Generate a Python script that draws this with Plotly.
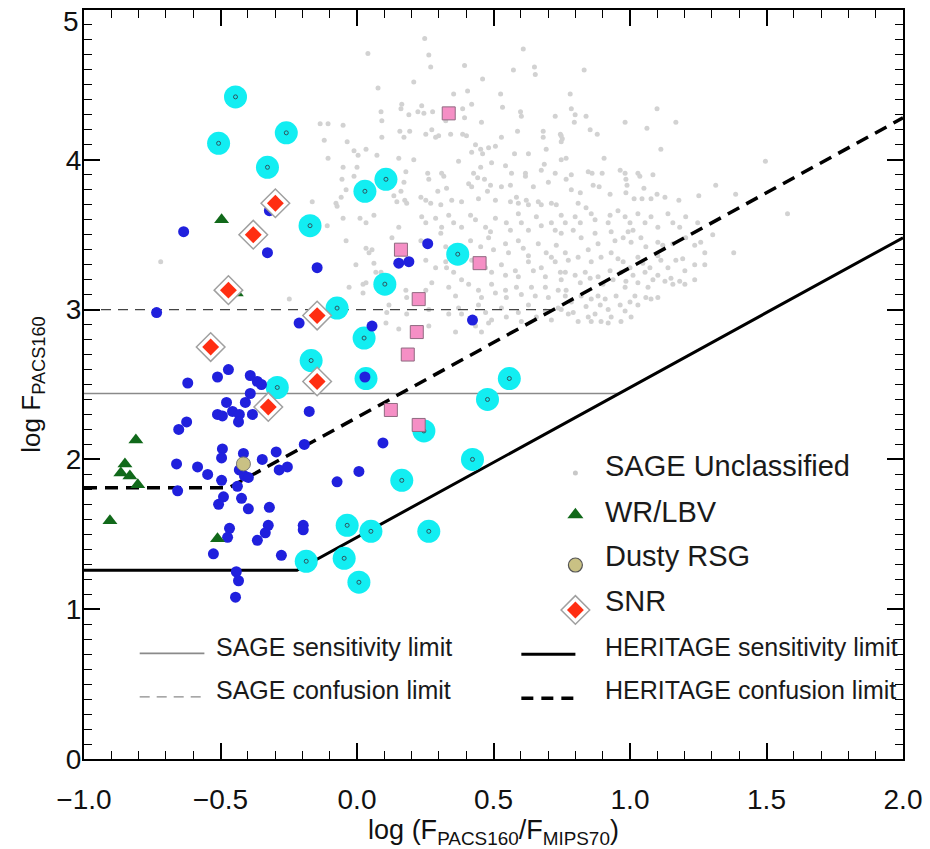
import plotly.graph_objects as go

# ---------------- data (log colour, log flux) ----------------
sage_xy = [
(0.248,4.81),(0.040,4.71),(0.263,4.70),(0.609,4.74),(0.270,4.62),(0.394,4.63),(0.573,4.60),(0.650,4.62),(0.653,4.57),
(0.208,4.52),(0.460,4.54),(0.077,4.48),(0.405,4.46),(0.354,4.44),(0.526,4.44),(0.164,4.37),(0.161,4.34),(0.237,4.36),
(0.420,4.37),(0.533,4.35),(0.088,4.32),(0.223,4.32),(0.245,4.31),(0.277,4.32),(0.190,4.30),(0.387,4.34),(0.394,4.28),
(0.325,4.26),(0.599,4.32),(0.602,4.29),(0.726,4.29),(0.091,4.26),(0.456,4.25),(-0.135,4.24),(-0.106,4.24),(-0.051,4.23),
(0.157,4.19),(0.172,4.15),(0.193,4.19),(0.252,4.17),(0.274,4.20),(0.288,4.15),(0.299,4.16),(0.343,4.17),(0.387,4.17),
(0.401,4.16),(0.091,4.15),(0.529,4.15),(0.588,4.19),(0.682,4.19),(0.682,4.15),(0.745,4.17),(0.752,4.14),(-0.120,4.13),
(-0.036,4.12),(0.434,4.10),(0.453,4.07),(0.460,4.04),(0.420,4.05),(0.482,4.08),(0.507,4.09),(-0.011,4.06),(0.033,4.07),
(0.073,4.03),(0.153,4.01),(0.208,4.00),(-0.106,4.01),(0.372,3.99),(0.577,4.04),(0.628,4.04),(0.693,4.07),(0.493,3.98),
(0.453,3.95),(0.544,3.96),(0.686,3.97),(0.748,4.00),(-0.051,3.95),(0.000,3.95),(0.310,3.91),(0.318,3.89),(0.259,3.91),
(0.263,3.87),(0.427,3.91),(0.442,3.88),(0.566,3.91),(0.617,3.91),(0.617,3.89),(0.675,3.93),(0.726,3.91),(-0.055,3.87),
(-0.011,3.89),(0.179,3.92),(0.467,3.87),(0.409,3.84),(0.420,3.82),(0.489,3.83),(0.529,3.82),(0.562,3.83),(0.646,3.82),
(0.701,3.85),(0.328,3.81),(0.296,3.79),(0.135,3.76),(0.146,3.72),(0.175,3.73),(0.182,3.71),(0.234,3.75),(0.252,3.73),
(0.270,3.71),(0.307,3.70),(0.347,3.73),(0.383,3.72),(0.445,3.74),(0.478,3.79),(0.507,3.73),(0.562,3.72),(0.584,3.75),
(0.591,3.71),(0.620,3.73),(0.628,3.70),(0.664,3.72),(0.675,3.70),(0.712,3.71),(0.730,3.70),(-0.164,3.72),(-0.077,3.71),
(-0.058,3.75),(0.172,3.85),(0.161,3.79),(0.004,4.03),
(-0.719,3.32),(-0.248,3.07),(-0.040,3.80),(-0.073,3.69),(-0.109,3.56),(-0.051,3.61),(0.011,3.61),(0.033,3.58),(-0.040,3.46),
(-0.004,3.30),(0.033,3.41),(0.044,3.38),(0.055,3.40),(0.062,3.31),(0.069,3.25),(0.022,3.17),(0.022,3.11),(0.109,2.98),
(0.832,4.60),(0.781,4.44),(0.785,4.34),(0.799,4.30),(0.796,4.25),(0.839,4.29),(1.099,4.34),(0.982,4.25),(1.062,4.21),
(1.168,4.25),(0.854,4.20),(0.880,4.17),(0.748,4.16),(0.748,4.12),(1.113,4.07),(0.766,4.01),(0.905,4.01),(0.785,3.90),
(0.766,3.87),(0.847,3.92),(0.861,3.91),(0.898,3.91),(0.964,3.93),(0.982,3.91),(0.985,3.87),(0.989,3.83),(1.029,3.91),
(1.036,3.89),(1.084,3.90),(0.785,3.80),(0.818,3.78),(0.865,3.83),(0.887,3.82),(0.927,3.77),(0.985,3.78),(1.051,3.81),
(1.015,3.74),(1.044,3.74),(1.077,3.74),(1.099,3.77),(1.128,3.75),(1.179,3.73),(1.252,3.76),(1.314,3.83),(1.387,3.77),
(1.496,3.99),(0.810,3.71),(0.839,3.68),
(0.763,3.58),(0.799,3.62),(0.818,3.58),(0.858,3.64),(0.872,3.60),(0.927,3.63),(0.920,3.58),(0.956,3.66),(0.982,3.62),
(1.000,3.58),(1.011,3.53),(1.029,3.64),(1.055,3.58),(1.077,3.62),(1.102,3.55),(1.139,3.64),(1.157,3.58),(1.182,3.55),
(1.204,3.62),(1.248,3.58),(1.577,3.64),(0.748,3.51),(0.792,3.53),(0.821,3.48),(0.872,3.51),(0.883,3.44),(0.931,3.52),
(0.945,3.46),(0.975,3.48),(0.993,3.52),(1.004,3.45),(1.040,3.48),(1.058,3.42),(1.102,3.45),(1.120,3.43),(1.157,3.44),
(1.204,3.48),(1.237,3.43),(1.259,3.45),(1.303,3.50),(1.274,3.38),(1.380,3.38),(0.763,3.38),(0.774,3.33),(0.810,3.35),
(0.847,3.40),(0.858,3.32),(0.894,3.35),(0.931,3.38),(0.956,3.34),(0.975,3.32),(1.000,3.28),(1.029,3.35),(1.047,3.31),
(1.073,3.28),(1.102,3.36),(1.113,3.33),(1.139,3.28),(1.168,3.33),(1.193,3.34),(1.201,3.26),(1.237,3.30),(1.274,3.30),
(0.748,3.20),(0.763,3.25),(0.799,3.23),(0.818,3.18),(0.836,3.25),(0.854,3.21),(0.883,3.22),(0.901,3.17),(0.927,3.26),
(0.938,3.20),(0.967,3.25),(0.985,3.19),(0.982,3.15),(1.011,3.23),(1.029,3.18),(1.055,3.25),(1.066,3.15),(1.084,3.20),
(1.102,3.23),(1.128,3.19),(1.150,3.21),(1.157,3.17),(1.182,3.19),(1.201,3.17),(1.237,3.20),(0.766,3.13),(0.748,3.00),
(0.785,3.05),(0.792,2.98),(0.821,3.09),(0.839,3.02),(0.858,3.07),(0.883,3.09),(0.891,3.03),(0.909,3.07),(0.872,2.97),
(0.894,2.92),(0.920,3.00),(0.931,2.95),(0.949,3.09),(0.964,3.03),(0.982,2.99),(1.000,3.05),(1.018,3.09),(1.029,3.03),
(1.058,3.08),(1.077,3.07),(1.102,3.08),(1.004,2.95),(0.967,2.92),(0.847,2.95),(0.858,2.92),(0.810,2.92),(0.774,2.97),
(0.920,2.91),
(0.062,3.63),(0.153,3.55),(0.237,3.62),(0.252,3.58),(0.288,3.61),(0.310,3.55),(0.336,3.63),(0.354,3.58),(0.383,3.55),
(0.416,3.63),(0.434,3.60),(0.471,3.55),(0.489,3.52),(0.507,3.61),(0.547,3.58),(0.562,3.53),(0.591,3.64),(0.602,3.58),
(0.628,3.53),(0.657,3.62),(0.675,3.56),(0.712,3.58),(0.726,3.53),(0.748,3.63),(0.128,3.48),(0.234,3.46),(0.307,3.51),
(0.325,3.42),(0.416,3.46),(0.453,3.42),(0.482,3.48),(0.500,3.40),(0.544,3.44),(0.555,3.38),(0.591,3.46),(0.609,3.41),
(0.628,3.36),(0.664,3.44),(0.693,3.38),(0.712,3.35),(0.730,3.43),(0.088,3.25),(0.252,3.33),(0.288,3.28),(0.325,3.32),
(0.328,3.28),(0.354,3.25),(0.383,3.20),(0.420,3.33),(0.471,3.28),(0.493,3.25),(0.529,3.30),(0.544,3.23),(0.580,3.26),
(0.591,3.22),(0.628,3.32),(0.646,3.26),(0.675,3.28),(0.690,3.22),(0.726,3.32),(0.745,3.25),(-0.029,3.15),(0.033,3.18),
(0.179,3.13),(0.182,3.08),(0.252,3.13),(0.274,3.18),(0.336,3.15),(0.361,3.09),(0.409,3.17),(0.445,3.13),(0.456,3.08),
(0.493,3.17),(0.507,3.11),(0.544,3.13),(0.547,3.08),(0.584,3.15),(0.602,3.10),(0.639,3.15),(0.653,3.09),(0.690,3.15),
(0.701,3.08),(0.737,3.13),(0.763,3.09),(0.117,3.03),(0.182,2.97),(0.263,3.00),(0.336,2.97),(0.372,3.01),(0.383,2.97),
(0.445,3.03),(0.471,2.98),(0.493,2.93),(0.529,3.01),(0.547,2.95),(0.591,2.98),(0.602,2.92),(0.628,3.03),(0.657,2.95),
(0.690,2.99),(0.712,2.93),(0.737,3.01),(0.106,2.91),(0.153,2.87),(0.263,2.89),(0.361,2.85),(0.434,2.89),(0.456,2.85),
(0.482,2.91),
]
sage_x = [p[0] for p in sage_xy]
sage_y = [p[1] for p in sage_xy]

cyan_x = [-0.445,-0.507,-0.259,-0.328,-0.172,0.106,0.029,0.369,0.102,-0.073,-0.168,0.026,-0.292,0.033,0.558,0.478,
          0.245,0.423,0.164,-0.036,0.051,0.263,-0.047,-0.186,0.007]
cyan_y = [4.42,4.11,4.18,3.95,3.56,3.87,3.79,3.37,3.17,3.01,2.66,2.81,2.48,2.54,2.54,2.40,
          2.19,2.00,1.86,1.56,1.52,1.52,1.34,1.32,1.18]

blue_x = [-0.635,-0.321,-0.328,-0.146,-0.734,-0.212,0.055,0.029,0.153,0.190,0.259,0.423,-0.471,-0.511,-0.620,
          -0.391,-0.365,-0.350,-0.391,-0.478,-0.409,-0.456,-0.511,-0.493,-0.431,-0.434,-0.383,-0.175,-0.624,-0.653,
          -0.493,-0.416,-0.496,-0.347,-0.296,-0.661,-0.584,-0.547,-0.431,-0.412,-0.398,-0.285,-0.255,-0.193,-0.496,
          -0.438,-0.657,-0.489,-0.507,-0.423,-0.398,-0.321,-0.467,-0.474,-0.325,-0.336,-0.365,-0.197,-0.197,-0.073,
          0.007,0.095,-0.526,-0.277,-0.442,-0.434,-0.445]
blue_y = [3.52,3.66,3.38,3.28,2.98,2.91,2.89,2.55,3.31,3.32,3.44,2.93,2.60,2.55,2.51,
          2.56,2.52,2.50,2.44,2.38,2.38,2.32,2.30,2.29,2.30,2.25,2.30,2.32,2.25,2.20,
          2.07,2.04,2.01,2.00,2.05,1.97,1.95,1.90,1.93,1.89,1.88,1.93,1.95,2.10,1.86,
          1.82,1.79,1.75,1.70,1.74,1.67,1.68,1.54,1.48,1.56,1.51,1.46,1.56,1.53,1.85,
          1.92,2.11,1.37,1.36,1.25,1.19,1.08]

pink_x = [0.336,0.161,0.449,0.226,0.219,0.186,0.124,0.226]
pink_y = [4.31,3.40,3.31,3.07,2.85,2.70,2.33,2.23]

wr_x = [-0.496,-0.442,-0.810,-0.850,-0.865,-0.832,-0.803,-0.905,-0.511]
wr_y = [3.60,3.11,2.13,1.97,1.91,1.89,1.83,1.59,1.47]

rsg_x = [-0.416]
rsg_y = [1.97]

snr_x = [-0.299,-0.380,-0.471,-0.146,-0.536,-0.146,-0.325]
snr_y = [3.71,3.50,3.13,2.96,2.75,2.52,2.35]

# limit lines
sage_sens_x = [-1.0, 0.96]
sage_sens_y = [2.44, 2.44]
sage_conf_x = [-1.0, 0.71]
sage_conf_y = [3.0, 3.0]
her_sens_x = [-1.0, -0.22, 2.0]
her_sens_y = [1.26, 1.26, 3.48]
her_conf_x = [-1.0, -0.47, 2.0]
her_conf_y = [1.81, 1.81, 4.28]

y_tickvals = [0, 1, 2, 3, 4, 5]
y_ticktext = ["0", "1", "2", "3", "4", ""]
y_top_label = "5"

# ---------------- figure ----------------
FONT = "Liberation Sans"
fig = go.Figure()

fig.add_trace(go.Scatter(x=sage_x, y=sage_y, mode="markers",
                         marker=dict(size=5, color="#d2d2d2"), showlegend=False))
fig.add_trace(go.Scatter(x=sage_sens_x, y=sage_sens_y, mode="lines",
                         line=dict(color="#8a8a8a", width=1.6), showlegend=False))
fig.add_trace(go.Scatter(x=sage_conf_x, y=sage_conf_y, mode="lines",
                         line=dict(color="#444444", width=1.4, dash="10px,7px"), showlegend=False))
fig.add_trace(go.Scatter(x=her_sens_x, y=her_sens_y, mode="lines",
                         line=dict(color="black", width=3), showlegend=False))
fig.add_trace(go.Scatter(x=her_conf_x, y=her_conf_y, mode="lines",
                         line=dict(color="black", width=3.5, dash="13px,8px"), showlegend=False))
fig.add_trace(go.Scatter(x=cyan_x, y=cyan_y, mode="markers",
                         marker=dict(size=23, color="#12eef2"), showlegend=False))
fig.add_trace(go.Scatter(x=cyan_x, y=cyan_y, mode="markers",
                         marker=dict(size=4, symbol="circle-open", color="#2f5560", line=dict(width=1)),
                         showlegend=False))
fig.add_trace(go.Scatter(x=blue_x, y=blue_y, mode="markers",
                         marker=dict(size=11, color="#2020dd"), showlegend=False))
fig.add_trace(go.Scatter(x=pink_x, y=pink_y, mode="markers",
                         marker=dict(size=13, symbol="square", color="#f58fc5",
                                     line=dict(color="#8f6a80", width=1)), showlegend=False))
fig.add_trace(go.Scatter(x=wr_x, y=wr_y, mode="markers",
                         marker=dict(size=13, symbol="triangle-up", color="#11691a"), showlegend=False))
fig.add_trace(go.Scatter(x=rsg_x, y=rsg_y, mode="markers",
                         marker=dict(size=14, color="#c9c184", line=dict(color="#777", width=1)),
                         showlegend=False))
fig.add_trace(go.Scatter(x=snr_x, y=snr_y, mode="markers",
                         marker=dict(size=22, symbol="diamond", color="white",
                                     line=dict(color="#a0a0a0", width=1.5)), showlegend=False))
fig.add_trace(go.Scatter(x=snr_x, y=snr_y, mode="markers",
                         marker=dict(size=13, symbol="diamond", color="#ff2e12"), showlegend=False))

# ---------------- legend (drawn by hand, in plot-fraction units) ----------------
leg_marker_x = [0.600, 0.600, 0.600, 0.600]
leg_marker_y = [0.382, 0.326, 0.259, 0.199]
fig.add_trace(go.Scatter(x=[leg_marker_x[0]], y=[leg_marker_y[0]], xaxis="x2", yaxis="y2", mode="markers",
                         marker=dict(size=5, color="#c8c8c8"), showlegend=False))
fig.add_trace(go.Scatter(x=[leg_marker_x[1]], y=[leg_marker_y[1]], xaxis="x2", yaxis="y2", mode="markers",
                         marker=dict(size=14, symbol="triangle-up", color="#11691a"), showlegend=False))
fig.add_trace(go.Scatter(x=[leg_marker_x[2]], y=[leg_marker_y[2]], xaxis="x2", yaxis="y2", mode="markers",
                         marker=dict(size=14, color="#c9c184", line=dict(color="#555", width=1.2)),
                         showlegend=False))
fig.add_trace(go.Scatter(x=[leg_marker_x[3]], y=[leg_marker_y[3]], xaxis="x2", yaxis="y2", mode="markers",
                         marker=dict(size=22, symbol="diamond", color="white",
                                     line=dict(color="#a0a0a0", width=1.5)), showlegend=False))
fig.add_trace(go.Scatter(x=[leg_marker_x[3]], y=[leg_marker_y[3]], xaxis="x2", yaxis="y2", mode="markers",
                         marker=dict(size=13, symbol="diamond", color="#ff2e12"), showlegend=False))

legend_texts = [
    ("SAGE Unclassified", 0.634, 0.391, 29),
    ("WR/LBV", 0.634, 0.330, 29),
    ("Dusty RSG", 0.634, 0.271, 29),
    ("SNR", 0.634, 0.211, 29),
    ("HERITAGE sensitivity limit", 0.634, 0.149, 25),
    ("HERITAGE confusion limit", 0.634, 0.092, 25),
    ("SAGE sensitivity limit", 0.159, 0.149, 25),
    ("SAGE confusion limit", 0.159, 0.092, 25),
]
annotations = []
for txt, ax_, ay_, fs in legend_texts:
    annotations.append(dict(text=txt, x=ax_, y=ay_, xref="paper", yref="paper", xanchor="left",
                            yanchor="middle", showarrow=False, font=dict(family=FONT, size=fs, color="#1a1a1a")))
# top y tick label (drawn just below the frame corner as in the original)
annotations.append(dict(text=y_top_label, x=0, y=0.985, xref="paper", yref="paper", xanchor="right",
                        yanchor="middle", xshift=-3, showarrow=False,
                        font=dict(family=FONT, size=28, color="#111")))

shapes = [
    dict(type="line", xref="paper", yref="paper", x0=0.068, x1=0.147, y0=0.141, y1=0.141,
         line=dict(color="#8a8a8a", width=1.6)),
    dict(type="line", xref="paper", yref="paper", x0=0.068, x1=0.147, y0=0.083, y1=0.083,
         line=dict(color="#8a8a8a", width=1.4, dash="10px,7px")),
    dict(type="line", xref="paper", yref="paper", x0=0.534, x1=0.600, y0=0.140, y1=0.140,
         line=dict(color="black", width=3)),
    dict(type="line", xref="paper", yref="paper", x0=0.534, x1=0.600, y0=0.081, y1=0.081,
         line=dict(color="black", width=3.5, dash="12px,8px")),
]

axis_common = dict(showline=True, linecolor="black", linewidth=2, mirror="ticks",
                   ticks="inside", tickcolor="black", tickwidth=1.5, ticklen=16,
                   showgrid=False, zeroline=False,
                   tickfont=dict(family=FONT, size=28, color="#111"))

fig.update_layout(
    width=930, height=849,
    margin=dict(l=84, r=24, t=8, b=87),
    paper_bgcolor="white", plot_bgcolor="white",
    showlegend=False,
    xaxis=dict(range=[-1.0, 2.0], tick0=-1.0, dtick=0.5, tickformat=".1f", ticklabelstandoff=14,
               minor=dict(ticks="inside", dtick=0.1, ticklen=8, tickcolor="black", tickwidth=1.2),
               title=dict(text="log (F<sub>PACS160</sub>/F<sub>MIPS70</sub>)",
                          font=dict(family=FONT, size=27, color="#111"), standoff=8),
               **axis_common),
    yaxis=dict(range=[0, 5], tickvals=y_tickvals, ticktext=y_ticktext, ticklabelstandoff=-5,
               minor=dict(ticks="inside", dtick=0.1, ticklen=8, tickcolor="black", tickwidth=1.2),
               title=dict(text="log F<sub>PACS160</sub>",
                          font=dict(family=FONT, size=26, color="#111"), standoff=18),
               **axis_common),
    xaxis2=dict(overlaying="x", anchor="y2", range=[0, 1], visible=False),
    yaxis2=dict(overlaying="y", anchor="x2", range=[0, 1], visible=False),
    annotations=annotations,
    shapes=shapes,
)

fig.write_html("out.html")
